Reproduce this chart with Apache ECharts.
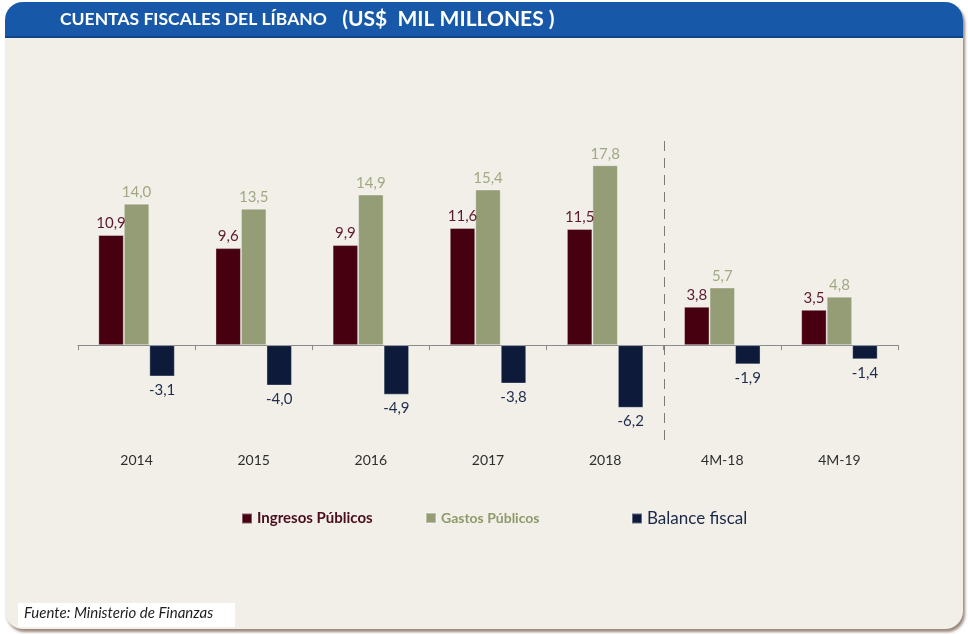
<!DOCTYPE html>
<html>
<head>
    <meta charset="utf-8">
    <title>Cuentas fiscales del Líbano</title>
    <script src="https://cdn.jsdelivr.net/npm/echarts@6/dist/echarts.min.js"></script>
    <style>
        body{ margin: 0; background: #ffffff; }
        #chart{ width: 968px; height: 634px; }
    </style>
</head>
<body>
<div id="chart"></div>
<script>
    // datos (US$ mil millones)
    var periodos = ['2014', '2015', '2016', '2017', '2018', '4M-18', '4M-19'];
    var ingresos = [10.9, 9.6, 9.9, 11.6, 11.5, 3.8, 3.5];
    var gastos = [14.0, 13.5, 14.9, 15.4, 17.8, 5.7, 4.8];
    var balance = [-3.1, -4.0, -4.9, -3.8, -6.2, -1.9, -1.4];

    var fmt = function (p) { return p.value.toFixed(1).replace('.', ','); };
    var fuente = 'Lato, "Open Sans", sans-serif';

    var myChart = echarts.init(document.getElementById('chart'));

    var option = {
        backgroundColor: '#ffffff',
        animation: false,
        graphic: [
            // marco del panel
            { type: 'rect', z: -10, shape: { x: 5, y: 2, width: 958, height: 627, r: 18 },
              style: { fill: '#f2efe9', shadowColor: 'rgba(100,70,50,0.65)', shadowBlur: 3, shadowOffsetX: 2, shadowOffsetY: 3 } },
            { type: 'rect', z: -9, shape: { x: 5, y: 2, width: 958, height: 36, r: [18, 18, 0, 0] },
              style: { fill: '#1759a8' } },
            { type: 'rect', z: -9, shape: { x: 5, y: 36, width: 958, height: 2 },
              style: { fill: '#0f4688' } },
            { type: 'text', left: 60, top: 9, z: 5,
              style: { text: '{a|CUENTAS FISCALES DEL LÍBANO}{b|   (US$  MIL MILLONES )}',
                rich: {
                    a: { fill: '#ffffff', font: 'bold 17.5px ' + fuente },
                    b: { fill: '#ffffff', font: 'bold 21px ' + fuente }
                } } },
            // fuente
            { type: 'rect', z: -8, shape: { x: 18, y: 603, width: 217, height: 24 },
              style: { fill: '#ffffff' } },
            { type: 'text', left: 24, top: 606, z: 5,
              style: { text: 'Fuente: Ministerio de Finanzas', fill: '#1e1e1e',
                font: 'italic 15px ' + fuente } }
        ],
        legend: [
            { left: 236, top: 506, itemWidth: 10, itemHeight: 10, icon: 'rect',
              data: ['Ingresos Públicos'],
              textStyle: { color: '#4a0d1e', fontWeight: 'bold', fontSize: 15, fontFamily: fuente } },
            { left: 420, top: 506, itemWidth: 10, itemHeight: 10, icon: 'rect',
              data: ['Gastos Públicos'],
              textStyle: { color: '#8e9a6a', fontWeight: 'bold', fontSize: 14, fontFamily: fuente } },
            { left: 626, top: 505, itemWidth: 10, itemHeight: 10, icon: 'rect',
              data: ['Balance fiscal'],
              textStyle: { color: '#1a2747', fontSize: 17, fontFamily: fuente } }
        ],
        grid: { left: 78, right: 70, top: 143, height: 283 },
        xAxis: {
            type: 'category',
            data: periodos,
            axisLine: { onZero: true, lineStyle: { color: '#8a8a8a', width: 1 } },
            axisTick: { show: true, length: 5, lineStyle: { color: '#8a8a8a' } },
            axisLabel: { margin: 27, color: '#2e2e2e', fontSize: 14, fontFamily: fuente }
        },
        yAxis: {
            type: 'value', min: -8, max: 20, show: false,
            splitLine: { show: false }
        },
        series: [
            { name: 'Ingresos Públicos', type: 'bar', data: ingresos,
              barWidth: 25.5, barGap: '0%',
              itemStyle: { color: '#470010', borderColor: 'rgba(255,255,255,0.35)', borderWidth: 1 },
              label: { show: true, position: 'top', distance: 4, formatter: fmt,
                color: '#5c1a30', fontSize: 15, fontFamily: fuente } },
            { name: 'Gastos Públicos', type: 'bar', data: gastos,
              barWidth: 25.5, barGap: '0%',
              itemStyle: { color: '#949d75', borderColor: 'rgba(255,255,255,0.35)', borderWidth: 1 },
              label: { show: true, position: 'top', distance: 4, formatter: fmt,
                color: '#a0a983', fontSize: 15, fontFamily: fuente } },
            { name: 'Balance fiscal', type: 'bar', data: balance,
              barWidth: 25.5, barGap: '0%',
              itemStyle: { color: '#0d1a3a', borderColor: 'rgba(255,255,255,0.35)', borderWidth: 1 },
              label: { show: true, position: 'bottom', distance: 6, formatter: fmt,
                color: '#1f2c4c', fontSize: 15, fontFamily: fuente } }
        ]
    };

    myChart.setOption(option);

    // línea discontinua entre 2018 y 4M-18
    var x1 = myChart.convertToPixel({ xAxisIndex: 0 }, '2018');
    var x2 = myChart.convertToPixel({ xAxisIndex: 0 }, '4M-18');
    var xm = Math.round((x1 + x2) / 2) + 0.5;
    option.graphic.push({ type: 'line', z: 3,
        shape: { x1: xm, y1: 141, x2: xm, y2: 441 },
        style: { stroke: '#7a7a7a', lineWidth: 1, lineDash: [10, 7] } });
    myChart.setOption({ graphic: option.graphic });
</script>
</body>
</html>
